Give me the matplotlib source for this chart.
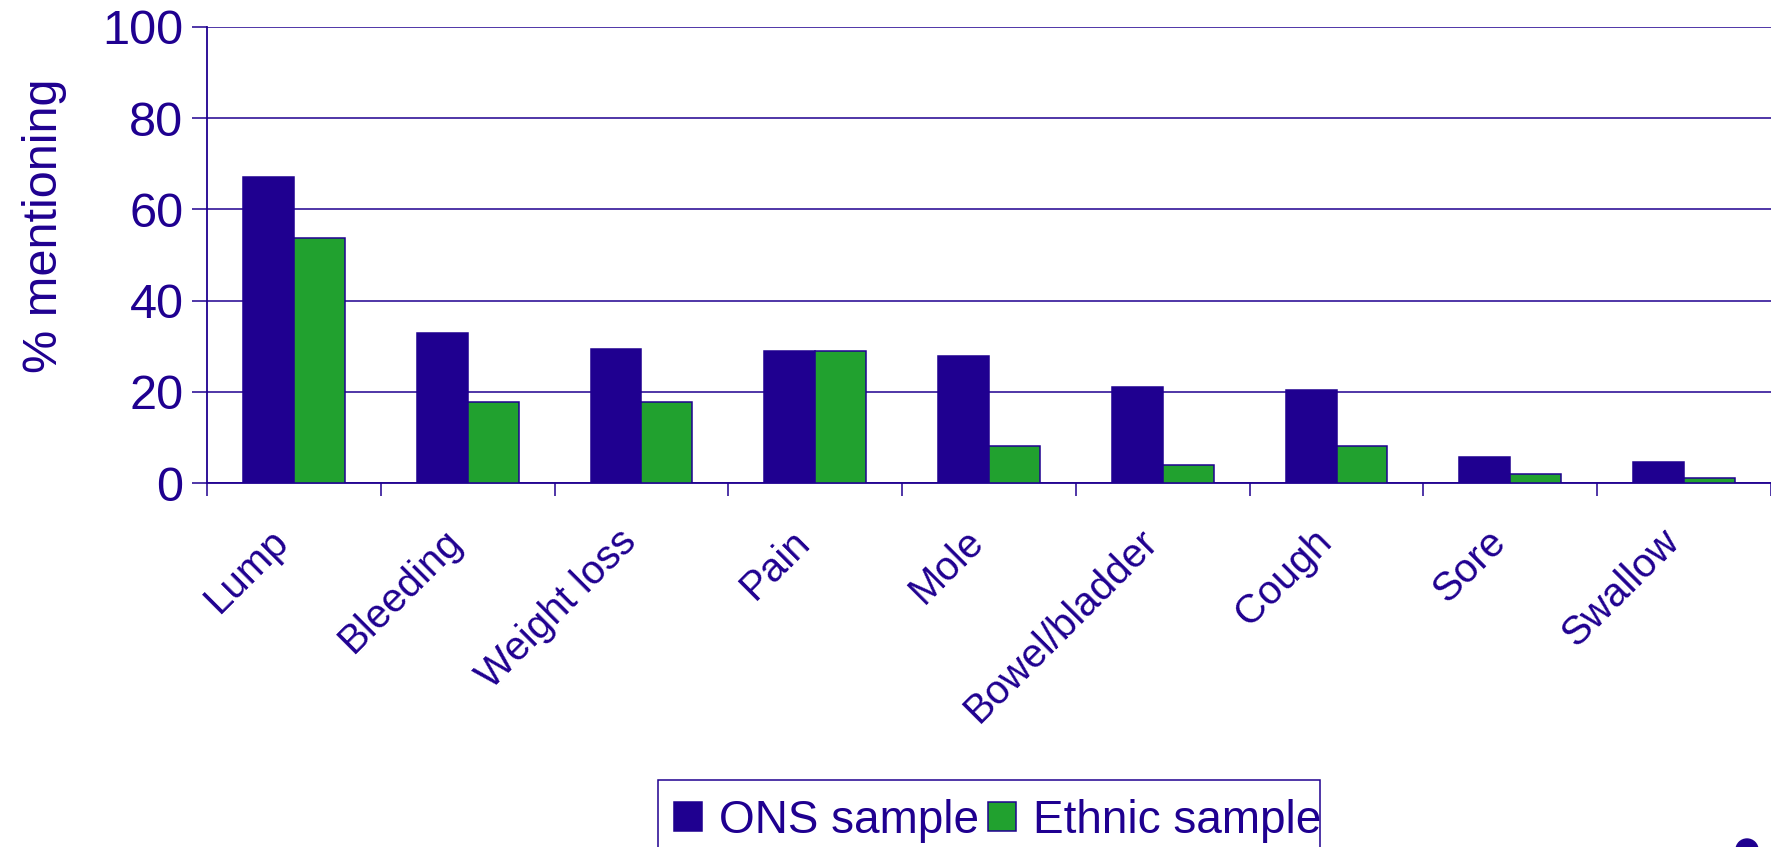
import numpy as np
import matplotlib
matplotlib.use("Agg")
import matplotlib.pyplot as plt
import matplotlib.transforms as mtransforms
from matplotlib.patches import Ellipse, Rectangle

# data
categories = ["Lump", "Bleeding", "Weight loss", "Pain", "Mole",
              "Bowel/bladder", "Cough", "Sore", "Swallow"]
ons_sample = [67.0, 32.8, 29.4, 28.9, 27.9, 21.0, 20.5, 5.8, 4.5]
ethnic_sample = [53.7, 17.8, 17.8, 28.9, 8.1, 3.9, 8.1, 2.0, 1.1]
y_ticks = [0, 20, 40, 60, 80, 100]

INDIGO = "#1f0090"
GREEN = "#21a12f"
W, H = 1771, 847

plt.rcParams["font.family"] = ["Liberation Sans", "DejaVu Sans"]

fig = plt.figure(figsize=(W / 100, H / 100), dpi=100)
ax = fig.add_axes([207 / W, 1 - 483 / H, 1 - 207 / W, (483 - 27) / H])

x = np.arange(len(categories))
w = 0.293
ax.bar(x - w / 2, ons_sample, w, color=INDIGO, edgecolor=INDIGO, linewidth=1.1,
       label="ONS sample", zorder=3)
ax.bar(x + w / 2, ethnic_sample, w, color=GREEN, edgecolor=INDIGO, linewidth=1.1,
       label="Ethnic sample", zorder=3)

ax.set_xlim(-0.5, len(categories) - 0.5)
ax.set_ylim(0, 100)
ax.set_yticks(y_ticks)
ax.tick_params(axis="y", labelsize=35, colors=INDIGO, length=11, width=1.1, pad=6)
ax.yaxis.grid(True, color=INDIGO, linewidth=1.1, zorder=0)
ax.set_axisbelow(True)

ax.set_xticks(x)
ax.set_xticklabels(categories, rotation=45, ha="right", va="center",
                   rotation_mode="anchor")
ax.tick_params(axis="x", which="major", length=0, labelsize=29, colors=INDIGO, pad=38)
shift = mtransforms.ScaledTranslation(-8 / 72, 0, fig.dpi_scale_trans)
for lab in ax.get_xticklabels():
    lab.set_transform(lab.get_transform() + shift)
ax.set_xticks(np.arange(-0.5, len(categories), 1), minor=True)
ax.tick_params(axis="x", which="minor", length=9, width=1.1, color=INDIGO)

for s in ["top", "right"]:
    ax.spines[s].set_visible(False)
for s in ["left", "bottom"]:
    ax.spines[s].set_color(INDIGO)
    ax.spines[s].set_linewidth(1.3)

ax.set_ylabel("% mentioning", fontsize=35, color=INDIGO)
ax.yaxis.set_label_coords(-0.0895, 0.564)

# legend frame drawn separately: it runs off the bottom edge of the picture
fig.add_artist(Rectangle((658 / W, -0.05), (1320 - 658) / W, 0.05 + (H - 780) / H,
                         transform=fig.transFigure, facecolor="white",
                         edgecolor=INDIGO, linewidth=1.1))
leg = fig.legend(loc="upper left", bbox_to_anchor=(674 / W, 1 - 799 / H),
                 ncol=2, fontsize=33, frameon=False,
                 handlelength=0.6, handleheight=0.6, handletextpad=0.38,
                 columnspacing=0.2, borderpad=0, borderaxespad=0)
for t in leg.get_texts():
    t.set_color(INDIGO)

# small dark dot clipped at the bottom-right corner
fig.add_artist(Ellipse((1747 / W, -3 / H), 22 / W, 22 / H,
                       transform=fig.transFigure, color=INDIGO))

plt.savefig("out.png", dpi=100)
